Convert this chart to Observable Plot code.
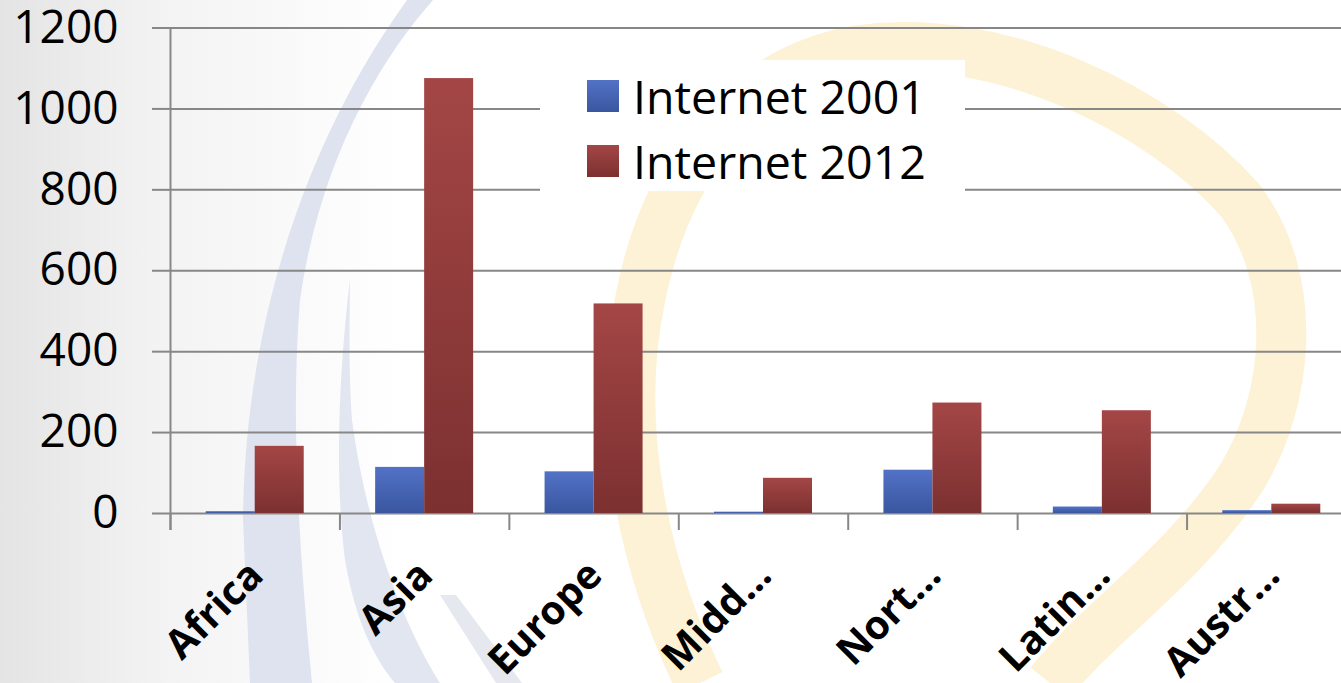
<!DOCTYPE html>
<html>
<head>
<meta charset="utf-8">
<script src="https://cdn.jsdelivr.net/npm/d3@7"></script>
<script src="https://cdn.jsdelivr.net/npm/@observablehq/plot@0.6"></script>
<style>
  html, body { margin: 0; padding: 0; background: #fff; overflow: hidden; }
  #stage { position: relative; width: 1341px; height: 683px; overflow: hidden; font-family: "Open Sans", sans-serif; }
  #stage > svg.bg { position: absolute; left: 0; top: 0; }
  #chart { position: absolute; left: 0; top: 0; }
  #legend {
    position: absolute; left: 540px; top: 60px; width: 425px; height: 131px;
    background: #fff; font-family: "Open Sans", sans-serif; font-size: 46.5px; color: #000;
  }
  #legend .row { position: absolute; left: 47px; display: flex; align-items: center; height: 50px; white-space: nowrap; }
  #legend .sw { width: 32px; height: 32px; margin-right: 14px; }
</style>
</head>
<body>
<div id="stage">
  <!-- slide backdrop: soft grey edge and the light swooshes behind the chart -->
  <svg class="bg" width="1341" height="683">
    <defs>
      <linearGradient id="edge" x1="0" x2="1" y1="0" y2="0">
        <stop offset="0" stop-color="#e4e4e4"/>
        <stop offset="0.12" stop-color="#f3f3f3"/>
        <stop offset="0.3" stop-color="#ffffff"/>
      </linearGradient>
    </defs>
    <rect width="1341" height="683" fill="url(#edge)"/>
    <path d="M407,0 C320,120 245,300 243,520 L250,683 L312,683 C300,560 290,420 300,300 C320,160 380,60 433,0 Z" fill="#dfe3ef"/>
    <path d="M350,279 C338,380 335,480 345,560 C355,620 375,660 395,683 L440,683 C400,620 365,520 352,420 C348,360 350,310 350,279 Z" fill="#e2e6f0"/>
    <path d="M440,595 L456,595 L522,683 L496,683 Z" fill="#e6e8ef"/>
    <path d="M700,683 C640,560 615,420 640,300 C665,170 740,70 860,50 C1000,30 1160,110 1240,200 C1300,280 1290,400 1240,480 C1180,570 1100,620 1050,683" fill="none" stroke="#fdf2d6" stroke-width="50"/>
  </svg>
  <div id="chart"></div>
  <div id="legend">
    <div class="row" style="top:11px"><div class="sw" style="background:linear-gradient(#5272c6,#3a56a0)"></div>Internet 2001</div>
    <div class="row" style="top:76px"><div class="sw" style="background:linear-gradient(#a44646,#7c3030)"></div>Internet 2012</div>
  </div>
</div>
<script>
// Internet users (millions) by world region
const regions = ["Africa", "Asia", "Europe", "Midd...", "Nort...", "Latin...", "Austr..."];
const internet2001 = [4.5, 114, 103, 3.3, 107, 16, 7];
const internet2012 = [166, 1075, 518, 87, 273, 254, 23];
const yTicks = [0, 200, 400, 600, 800, 1000, 1200];

const rows = regions.map((region, i) => ({region, v2001: internet2001[i], v2012: internet2012[i]}));

const W = 1356, H = 683, ML = 170, MR = 0, MT = 27.5, MB = 170;
const step = (W - ML - MR) / regions.length;
const barW = 49;
const side = (step - 2 * barW) / 2;
const grid = "#878787";

// vertical gradients for the bars
const gradients = () => {
  const defs = d3.create("svg:defs");
  const add = (id, top, bottom) => {
    const g = defs.append("linearGradient").attr("id", id).attr("x1", 0).attr("x2", 0).attr("y1", 0).attr("y2", 1);
    g.append("stop").attr("offset", 0).attr("stop-color", top);
    g.append("stop").attr("offset", 1).attr("stop-color", bottom);
  };
  add("g2001", "#5272c6", "#3a56a0");
  add("g2012", "#a44646", "#7c3030");
  return defs.node();
};

const plot = Plot.plot({
  width: W,
  height: H,
  marginLeft: ML,
  marginRight: MR,
  marginTop: MT,
  marginBottom: MB,
  style: {background: "transparent", maxWidth: "none", overflow: "visible", fontFamily: "Open Sans, sans-serif", color: "#000"},
  x: {domain: regions, padding: 0, round: false, axis: null},
  y: {domain: [0, 1200], axis: null},
  marks: [
    gradients,
    Plot.gridY(yTicks, {stroke: grid, strokeWidth: 2, strokeOpacity: 1}),
    Plot.axisY(yTicks, {tickSize: 18, tickPadding: 34, stroke: grid, strokeWidth: 2, fontSize: 46, tickFormat: d => String(d)}),
    // y axis line, running down to the tick length below the baseline
    Plot.tickX([regions[0]], {x: d => d, dx: -step / 2, stroke: grid, strokeWidth: 2, insetBottom: -17}),
    // category boundary ticks
    Plot.tickX(regions, {x: d => d, dx: -step / 2, stroke: grid, strokeWidth: 2, insetTop: H - MT - MB, insetBottom: -17}),
    Plot.barY(rows, {x: "region", y: "v2001", fill: "url(#g2001)", insetLeft: side, insetRight: side + barW}),
    Plot.barY(rows, {x: "region", y: "v2012", fill: "url(#g2012)", insetLeft: side + barW, insetRight: side}),
    Plot.text(rows, {
      x: "region", text: "region", frameAnchor: "bottom",
      rotate: -45, textAnchor: "end", lineAnchor: "top",
      dx: -10, dy: 44, fontSize: 40, fontWeight: "bold", fill: "#000"
    })
  ]
});
document.getElementById("chart").appendChild(plot);
</script>
</body>
</html>
